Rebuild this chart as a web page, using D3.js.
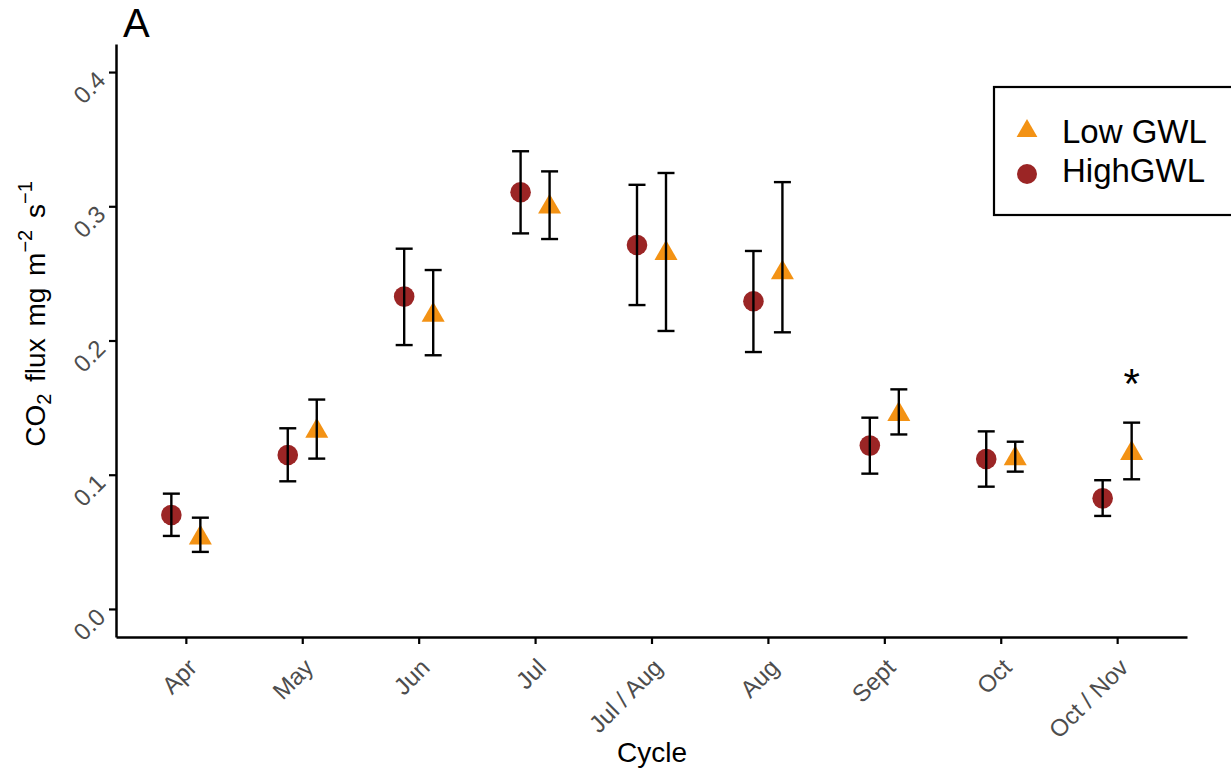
<!DOCTYPE html>
<html>
    <head>
        <script src="https://d3js.org/d3.v7.min.js"></script>
        <style>
            body { margin: 0; background: #fff; }
            text { font-family: "Liberation Sans", Arial, sans-serif; }
        </style>
    </head>

    <body>
        <div id="target"></div>

        <script>
            // data
            var cycles = ["Apr", "May", "Jun", "Jul", "Jul / Aug", "Aug", "Sept", "Oct", "Oct / Nov"];
            var highMean  = [0.070, 0.1147, 0.2327, 0.3104, 0.2711, 0.2292, 0.1217, 0.1117, 0.0824];
            var highLower = [0.0544, 0.0951, 0.1966, 0.2798, 0.2264, 0.1914, 0.1008, 0.0911, 0.0693];
            var highUpper = [0.0859, 0.1346, 0.2684, 0.3410, 0.3160, 0.2667, 0.1425, 0.1323, 0.0959];
            var lowMean   = [0.0530, 0.1325, 0.2190, 0.2995, 0.2650, 0.2505, 0.1450, 0.1120, 0.1160];
            var lowLower  = [0.0425, 0.1120, 0.1890, 0.2756, 0.2071, 0.2061, 0.1300, 0.1023, 0.0966];
            var lowUpper  = [0.0680, 0.1560, 0.2525, 0.3260, 0.3248, 0.3180, 0.1636, 0.1246, 0.1388];
            var yTicks = [0.0, 0.1, 0.2, 0.3, 0.4];
            var signif = [{cycle: "Oct / Nov", group: "low", y: 0.175}];

            var W = 1231, H = 770;
            var pLeft = 116, pRight = 1187, pTop = 44, pBottom = 637;
            var dodge = 14.5;
            var highCol = "#9b2525", lowCol = "#f39214";

            var svg = d3.select('#target')
                        .append('svg')
                        .attr('width', W)
                        .attr('height', H);

            var x = d3.scalePoint()
                .domain(cycles)
                .range([pLeft, pRight])
                .padding(0.6);

            var y = d3.scaleLinear()
                .domain([-0.0209, 0.4209])
                .range([pBottom, pTop]);

            var groups = [
                {key: "high", off: -dodge, mean: highMean, lo: highLower, hi: highUpper},
                {key: "low",  off:  dodge, mean: lowMean,  lo: lowLower,  hi: lowUpper}
            ];

            // triangle with centroid at origin
            var tri = function(r) {
                var hw = r * Math.sqrt(3) / 2;
                return 'M0,' + (-r) + 'L' + hw + ',' + (r / 2) + 'L' + (-hw) + ',' + (r / 2) + 'Z';
            };

            // points first, error bars on top (as in the figure)
            groups.forEach(function(g) {
                var rows = cycles.map(function(c, i) {
                    return {c: c, m: g.mean[i]};
                });
                var layer = svg.append('g');
                if (g.key === "high") {
                    layer.selectAll('circle').data(rows).enter()
                        .append('circle')
                        .attr('cx', function(d) { return x(d.c) + g.off; })
                        .attr('cy', function(d) { return y(d.m); })
                        .attr('r', 10.3)
                        .attr('fill', highCol);
                } else {
                    layer.selectAll('path').data(rows).enter()
                        .append('path')
                        .attr('d', tri(13.3))
                        .attr('transform', function(d) {
                            return 'translate(' + (x(d.c) + g.off) + ',' + y(d.m) + ')';
                        })
                        .attr('fill', lowCol);
                }
            });

            groups.forEach(function(g) {
                var rows = cycles.map(function(c, i) {
                    return {c: c, lo: g.lo[i], hi: g.hi[i]};
                });
                var eb = svg.append('g')
                    .attr('stroke', '#000')
                    .attr('stroke-width', 2.4)
                    .attr('fill', 'none');
                var bars = eb.selectAll('g').data(rows).enter().append('g')
                    .attr('transform', function(d) { return 'translate(' + (x(d.c) + g.off) + ',0)'; });
                bars.append('line')
                    .attr('y1', function(d) { return y(d.lo); })
                    .attr('y2', function(d) { return y(d.hi); });
                bars.append('line')
                    .attr('x1', -8.5).attr('x2', 8.5)
                    .attr('y1', function(d) { return y(d.hi); })
                    .attr('y2', function(d) { return y(d.hi); });
                bars.append('line')
                    .attr('x1', -8.5).attr('x2', 8.5)
                    .attr('y1', function(d) { return y(d.lo); })
                    .attr('y2', function(d) { return y(d.lo); });
            });

            // significance star
            svg.selectAll('.star').data(signif).enter()
                .append('text')
                .attr('class', 'star')
                .attr('x', function(d) { return x(d.cycle) + dodge; })
                .attr('y', function(d) { return y(d.y) + 24; })
                .attr('text-anchor', 'middle')
                .attr('font-size', 42)
                .text('*');

            // axes
            var yAxis = svg.append('g')
                .attr('transform', 'translate(' + pLeft + ',0)')
                .call(d3.axisLeft(y).tickValues(yTicks).tickFormat(d3.format('.1f')).tickSize(7).tickSizeOuter(0));
            yAxis.select('.domain').attr('stroke-width', 2.5);
            yAxis.selectAll('.tick line').attr('stroke-width', 2.2);
            yAxis.selectAll('.tick text')
                .attr('x', null).attr('dy', '0.71em')
                .attr('fill', '#4d4d4d')
                .attr('font-size', 24)
                .attr('text-anchor', 'end')
                .attr('transform', 'translate(-21,-3) rotate(-45)');

            var xAxis = svg.append('g')
                .attr('transform', 'translate(0,' + pBottom + ')')
                .call(d3.axisBottom(x).tickSize(7).tickSizeOuter(0));
            xAxis.select('.domain').attr('stroke-width', 2.5);
            xAxis.selectAll('.tick line').attr('stroke-width', 2.2);
            xAxis.selectAll('.tick text')
                .attr('y', null).attr('dy', '0.71em')
                .attr('fill', '#4d4d4d')
                .attr('font-size', 24)
                .attr('text-anchor', 'end')
                .attr('transform', 'translate(0,20) rotate(-45)');
            svg.selectAll('.domain').attr('stroke', '#000');

            // titles
            svg.append('text')
                .attr('x', 652).attr('y', 762)
                .attr('text-anchor', 'middle')
                .attr('font-size', 28)
                .text('Cycle');

            var yl = svg.append('text')
                .attr('transform', 'translate(45,314) rotate(-90)')
                .attr('text-anchor', 'middle')
                .attr('font-size', 28)
                .attr('word-spacing', 4);
            yl.append('tspan').text('CO');
            yl.append('tspan').attr('font-size', 20).attr('dy', 6).text('2');
            yl.append('tspan').attr('dy', -6).text(' flux mg m');
            yl.append('tspan').attr('font-size', 20).attr('dy', -13).text('\u22122');
            yl.append('tspan').attr('dy', 13).text(' s');
            yl.append('tspan').attr('font-size', 20).attr('dy', -13).text('\u22121');

            svg.append('text')
                .attr('x', 123).attr('y', 37)
                .attr('font-size', 40)
                .text('A');

            // legend
            var legend = svg.append('g');
            legend.append('rect')
                .attr('x', 994).attr('y', 87)
                .attr('width', 260).attr('height', 128)
                .attr('fill', '#fff')
                .attr('stroke', '#000')
                .attr('stroke-width', 2.2);
            var keys = [{label: "Low GWL", key: "low"}, {label: "HighGWL", key: "high"}];
            var ly = d3.scalePoint().domain(["low", "high"]).range([131, 170]);
            keys.forEach(function(k) {
                if (k.key === "low") {
                    legend.append('path')
                        .attr('d', tri(12))
                        .attr('transform', 'translate(1027,' + (ly(k.key)) + ')')
                        .attr('fill', lowCol);
                } else {
                    legend.append('circle')
                        .attr('cx', 1027).attr('cy', ly(k.key) + 4)
                        .attr('r', 10).attr('fill', highCol);
                }
                legend.append('text')
                    .attr('x', 1062).attr('y', ly(k.key) + 12)
                    .attr('font-size', 33)
                    .text(k.label);
            });
        </script>
    </body>
</html>
